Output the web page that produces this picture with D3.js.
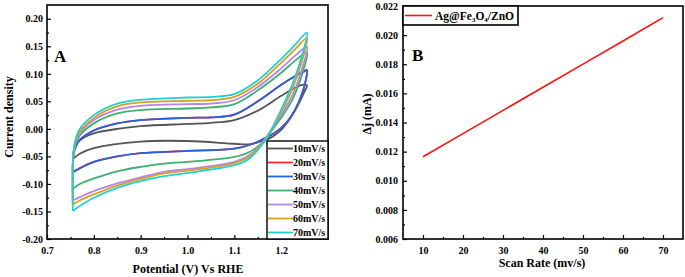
<!DOCTYPE html>
<html>
<head>
<meta charset="utf-8">
<script src="https://cdn.jsdelivr.net/npm/d3@7"></script>
<style>
  body { margin: 0; background: #fff; }
</style>
</head>
<body>
<div id="chart"></div>
<script>
// ---- data ----
const rateLabels = ["10mV/s", "20mV/s", "30mV/s", "40mV/s", "50mV/s", "60mV/s", "70mV/s"];
const rateColors = ["#555555", "#ff2a2a", "#2563e0", "#3cb06e", "#b784ea", "#d9a01c", "#22d0d2"];

// CV loops: [potential (V), current density], anodic branch then cathodic branch
const cv10 = [[0.755,-0.055],[0.757,-0.04],[0.765,-0.025],[0.78,-0.015],[0.8,-0.008],[0.85,0.0],[0.9,0.005],[1.0,0.009],[1.05,0.011],[1.1,0.016],[1.15,0.033],[1.2,0.06],[1.23,0.075],[1.245,0.08],[1.255,0.079],
  [1.25,0.068],[1.24,0.05],[1.22,0.02],[1.2,-0.002],[1.18,-0.015],[1.16,-0.022],[1.13,-0.028],[1.1,-0.027],[1.0,-0.022],[0.9,-0.023],[0.8,-0.035],[0.77,-0.045],[0.755,-0.055]];
const cv20 = [[0.755,-0.078],[0.756,-0.05],[0.76,-0.035],[0.77,-0.02],[0.8,-0.003],[0.85,0.01],[0.9,0.016],[1.0,0.02],[1.05,0.021],[1.1,0.026],[1.15,0.05],[1.2,0.08],[1.23,0.096],[1.245,0.102],[1.255,0.106],
  [1.253,0.09],[1.245,0.065],[1.23,0.035],[1.21,0.01],[1.19,-0.005],[1.17,-0.015],[1.14,-0.027],[1.1,-0.036],[1.0,-0.04],[0.9,-0.044],[0.85,-0.05],[0.8,-0.06],[0.77,-0.071],[0.755,-0.078]];
const cv30 = [[0.755,-0.079],[0.756,-0.05],[0.76,-0.035],[0.77,-0.02],[0.8,-0.003],[0.85,0.01],[0.9,0.016],[1.0,0.02],[1.05,0.021],[1.1,0.026],[1.15,0.05],[1.2,0.08],[1.23,0.096],[1.245,0.103],[1.255,0.107],
  [1.253,0.09],[1.245,0.065],[1.23,0.035],[1.21,0.01],[1.19,-0.005],[1.17,-0.015],[1.14,-0.027],[1.1,-0.036],[1.0,-0.04],[0.9,-0.044],[0.85,-0.05],[0.8,-0.06],[0.77,-0.072],[0.755,-0.079]];
const cv40 = [[0.755,-0.109],[0.756,-0.05],[0.76,-0.03],[0.77,-0.012],[0.8,0.01],[0.85,0.028],[0.9,0.034],[1.0,0.037],[1.05,0.039],[1.1,0.045],[1.15,0.07],[1.2,0.102],[1.23,0.124],[1.255,0.139],
  [1.245,0.1],[1.225,0.055],[1.2,0.02],[1.18,-0.003],[1.16,-0.025],[1.13,-0.043],[1.1,-0.051],[1.0,-0.06],[0.95,-0.063],[0.9,-0.069],[0.85,-0.077],[0.8,-0.09],[0.77,-0.1],[0.755,-0.109]];
const cv50 = [[0.755,-0.13],[0.756,-0.05],[0.76,-0.028],[0.77,-0.008],[0.8,0.016],[0.85,0.035],[0.9,0.042],[1.0,0.045],[1.05,0.046],[1.1,0.052],[1.15,0.076],[1.2,0.11],[1.23,0.133],[1.255,0.149],
  [1.245,0.11],[1.225,0.063],[1.2,0.025],[1.18,0.0],[1.16,-0.025],[1.13,-0.049],[1.1,-0.06],[1.0,-0.073],[0.95,-0.078],[0.9,-0.088],[0.85,-0.099],[0.8,-0.113],[0.77,-0.124],[0.755,-0.13]];
const cv60 = [[0.755,-0.137],[0.756,-0.05],[0.76,-0.025],[0.77,-0.005],[0.8,0.02],[0.85,0.041],[0.9,0.048],[1.0,0.051],[1.05,0.052],[1.1,0.058],[1.15,0.082],[1.2,0.12],[1.23,0.145],[1.255,0.165],
  [1.245,0.125],[1.225,0.075],[1.2,0.03],[1.18,0.0],[1.16,-0.026],[1.13,-0.051],[1.1,-0.062],[1.0,-0.076],[0.95,-0.081],[0.9,-0.091],[0.85,-0.103],[0.8,-0.119],[0.77,-0.13],[0.755,-0.137]];
const cv70 = [[0.755,-0.149],[0.756,-0.05],[0.76,-0.022],[0.77,0.0],[0.8,0.025],[0.85,0.046],[0.9,0.053],[1.0,0.057],[1.05,0.058],[1.1,0.063],[1.15,0.088],[1.2,0.127],[1.23,0.153],[1.255,0.175],
  [1.245,0.135],[1.225,0.083],[1.2,0.035],[1.18,0.0],[1.16,-0.028],[1.13,-0.055],[1.1,-0.066],[1.0,-0.08],[0.95,-0.086],[0.9,-0.095],[0.85,-0.107],[0.8,-0.125],[0.77,-0.14],[0.755,-0.149]];
const cvCurves = [cv10, cv20, cv30, cv40, cv50, cv60, cv70];

// panel B
const scanRate = [10, 20, 30, 40, 50, 60, 70];
const deltaJ = [0.01165, 0.01324, 0.01483, 0.01642, 0.01801, 0.0196, 0.0212];

const xTicksA = [0.7, 0.8, 0.9, 1.0, 1.1, 1.2];
const yTicksA = [-0.2, -0.15, -0.1, -0.05, 0, 0.05, 0.1, 0.15, 0.2];
const xTicksB = [10, 20, 30, 40, 50, 60, 70];
const yTicksB = [0.006, 0.008, 0.01, 0.012, 0.014, 0.016, 0.018, 0.02, 0.022];

// ---- chart ----
const width = 685, height = 277;
const font = "'Liberation Serif', 'Times New Roman', serif";

const svg = d3.select("#chart").append("svg")
    .attr("width", width)
    .attr("height", height)
    .attr("viewBox", [0, 0, width, height])
    .attr("font-family", font)
    .attr("font-weight", "bold");

function styleAxis(g) {
  g.attr("font-family", font).attr("font-size", 10).attr("font-weight", "bold");
  g.select(".domain").remove();
  g.selectAll(".tick line").attr("stroke-width", 1.2);
}

// panel frame + axes (ticks point inward)
function panel(x, y, o) {
  const [x0, x1] = x.range();
  const [y0, y1] = y.range();
  svg.append("g")
      .attr("transform", `translate(0,${y0})`)
      .call(d3.axisBottom(x).tickValues(o.xTicks).tickFormat(o.xFormat).tickSizeInner(-4).tickSizeOuter(0).tickPadding(8))
      .call(styleAxis);
  svg.append("g")
      .attr("transform", `translate(0,${y0})`)
      .call(d3.axisBottom(x).tickValues(o.xMinor).tickFormat("").tickSizeInner(-2).tickSizeOuter(0))
      .call(styleAxis);
  svg.append("g")
      .attr("transform", `translate(${x0},0)`)
      .call(d3.axisLeft(y).tickValues(o.yTicks).tickFormat(o.yFormat).tickSizeInner(-4).tickSizeOuter(0).tickPadding(o.yPad))
      .call(styleAxis);
  svg.append("g")
      .attr("transform", `translate(${x0},0)`)
      .call(d3.axisLeft(y).tickValues(o.yMinor).tickFormat("").tickSizeInner(-2).tickSizeOuter(0))
      .call(styleAxis);
  svg.append("rect")
      .attr("x", x0).attr("y", y1)
      .attr("width", x1 - x0).attr("height", y0 - y1)
      .attr("fill", "none").attr("stroke", "#000").attr("stroke-width", 1.6);
}

// ---- panel A ----
const xA = d3.scaleLinear([0.7, 1.3], [47, 328]);
const yA = d3.scaleLinear([-0.2, 0.225], [239, 5]);

const cvLine = d3.line()
    .x(d => xA(d[0]))
    .y(d => yA(d[1]))
    .curve(d3.curveCatmullRom.alpha(0.5));

svg.append("g")
  .selectAll("path")
  .data(cvCurves)
  .join("path")
    .attr("fill", "none")
    .attr("stroke", (d, i) => rateColors[i])
    .attr("stroke-width", 1.8)
    .attr("stroke-linejoin", "round")
    .attr("d", cvLine);

panel(xA, yA, {
  xTicks: xTicksA, xFormat: d => d.toFixed(1),
  xMinor: [0.75, 0.85, 0.95, 1.05, 1.15, 1.25],
  yTicks: yTicksA, yFormat: d => d.toFixed(2), yPad: 4,
  yMinor: [-0.175, -0.125, -0.075, -0.025, 0.025, 0.075, 0.125, 0.175]
});

svg.append("text").attr("x", 54).attr("y", 62).attr("font-size", 17).text("A");

svg.append("text")
    .attr("transform", "translate(13,117) rotate(-90)")
    .attr("text-anchor", "middle")
    .attr("font-size", 12)
    .text("Current density");
svg.append("text")
    .attr("x", 188).attr("y", 273)
    .attr("text-anchor", "middle")
    .attr("font-size", 12)
    .text("Potential (V) Vs RHE");

// legend A
const legA = svg.append("g");
legA.append("rect")
    .attr("x", 267).attr("y", 141).attr("width", 61).attr("height", 98)
    .attr("fill", "#fff").attr("stroke", "#000").attr("stroke-width", 1.4);
rateLabels.forEach((lab, i) => {
  const yy = 148.5 + i * 14;
  legA.append("line").attr("x1", 268).attr("x2", 293).attr("y1", yy).attr("y2", yy)
      .attr("stroke", rateColors[i]).attr("stroke-width", 1.8);
  legA.append("text").attr("x", 293).attr("y", yy).attr("dy", "0.35em")
      .attr("font-size", 10).text(lab);
});

// ---- panel B ----
const xB = d3.scaleLinear([5, 75], [403, 683]);
const yB = d3.scaleLinear([0.006, 0.022], [239, 6]);

svg.append("path")
    .datum(scanRate.map((s, i) => [s, deltaJ[i]]))
    .attr("fill", "none")
    .attr("stroke", "#ff1010")
    .attr("stroke-width", 1.6)
    .attr("d", d3.line().x(d => xB(d[0])).y(d => yB(d[1])));

panel(xB, yB, {
  xTicks: xTicksB, xFormat: d => d,
  xMinor: [15, 25, 35, 45, 55, 65],
  yTicks: yTicksB, yFormat: d => d.toFixed(3), yPad: 5,
  yMinor: [0.007, 0.009, 0.011, 0.013, 0.015, 0.017, 0.019, 0.021]
});

svg.append("text").attr("x", 412).attr("y", 61).attr("font-size", 17).text("B");

svg.append("text")
    .attr("transform", "translate(371,114) rotate(-90)")
    .attr("text-anchor", "middle")
    .attr("font-size", 12)
    .text("\u0394j (mA)");
svg.append("text")
    .attr("x", 542).attr("y", 267)
    .attr("text-anchor", "middle")
    .attr("font-size", 12)
    .text("Scan Rate (mv/s)");

// legend B
const legB = svg.append("g");
legB.append("rect")
    .attr("x", 403).attr("y", 6).attr("width", 115).attr("height", 19)
    .attr("fill", "#fff").attr("stroke", "#000").attr("stroke-width", 1.6);
legB.append("line").attr("x1", 405).attr("x2", 432).attr("y1", 15.5).attr("y2", 15.5)
    .attr("stroke", "#ff1010").attr("stroke-width", 1.6);
const lt = legB.append("text").attr("x", 435).attr("y", 19.5).attr("font-size", 11.5);
lt.append("tspan").text("Ag@Fe");
lt.append("tspan").attr("font-size", 7).attr("dy", 2.5).text("3");
lt.append("tspan").attr("dy", -2.5).text("O");
lt.append("tspan").attr("font-size", 7).attr("dy", 2.5).text("4");
lt.append("tspan").attr("dy", -2.5).text("/ZnO");
</script>
</body>
</html>
